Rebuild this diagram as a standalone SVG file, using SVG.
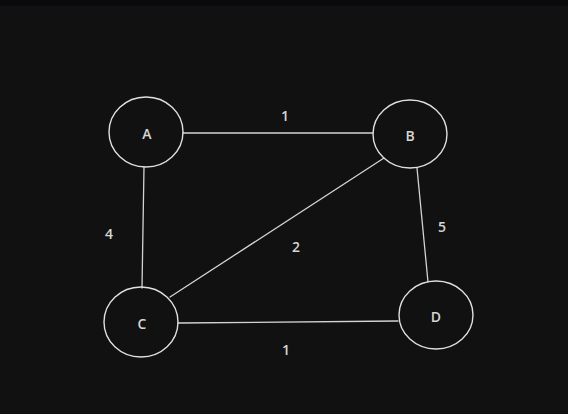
<svg xmlns="http://www.w3.org/2000/svg" width="568" height="414" viewBox="0 0 568 414">
<style>
.n{fill:none;stroke:#e0e0e0;stroke-width:1.4}
.e{fill:none;stroke:#d4d4d4;stroke-width:1.3;stroke-linecap:round}
.t{font-family:"Open Sans","DejaVu Sans",sans-serif;font-size:14px;font-weight:600;fill:#d6d6d6;text-anchor:middle;dominant-baseline:central}
</style>
<rect width="568" height="414" fill="#111111"/>
<rect width="568" height="6" fill="#0a0a0c"/>
<g id="edges">
<line class="e" x1="183" y1="133" x2="373" y2="133"/>
<line class="e" x1="144" y1="167" x2="142" y2="288"/>
<line class="e" x1="384" y1="158" x2="170" y2="297"/>
<line class="e" x1="417" y1="168" x2="428" y2="282"/>
<line class="e" x1="178" y1="323" x2="398" y2="321"/>
<text class="t" x="285" y="115">1</text>
<text class="t" x="109" y="233">4</text>
<text class="t" x="296" y="246">2</text>
<text class="t" x="442" y="226">5</text>
<text class="t" x="286" y="349">1</text>
</g>
<g id="A"><ellipse class="n" cx="146" cy="132" rx="37" ry="35"/><text class="t" x="147" y="133">A</text></g>
<g id="B"><ellipse class="n" cx="410" cy="134" rx="37" ry="34"/><text class="t" x="410" y="135">B</text></g>
<g id="C"><ellipse class="n" cx="141" cy="322" rx="37" ry="35"/><text class="t" x="142" y="323">C</text></g>
<g id="D"><ellipse class="n" cx="436" cy="315" rx="37" ry="34"/><text class="t" x="436" y="316">D</text></g>
</svg>
